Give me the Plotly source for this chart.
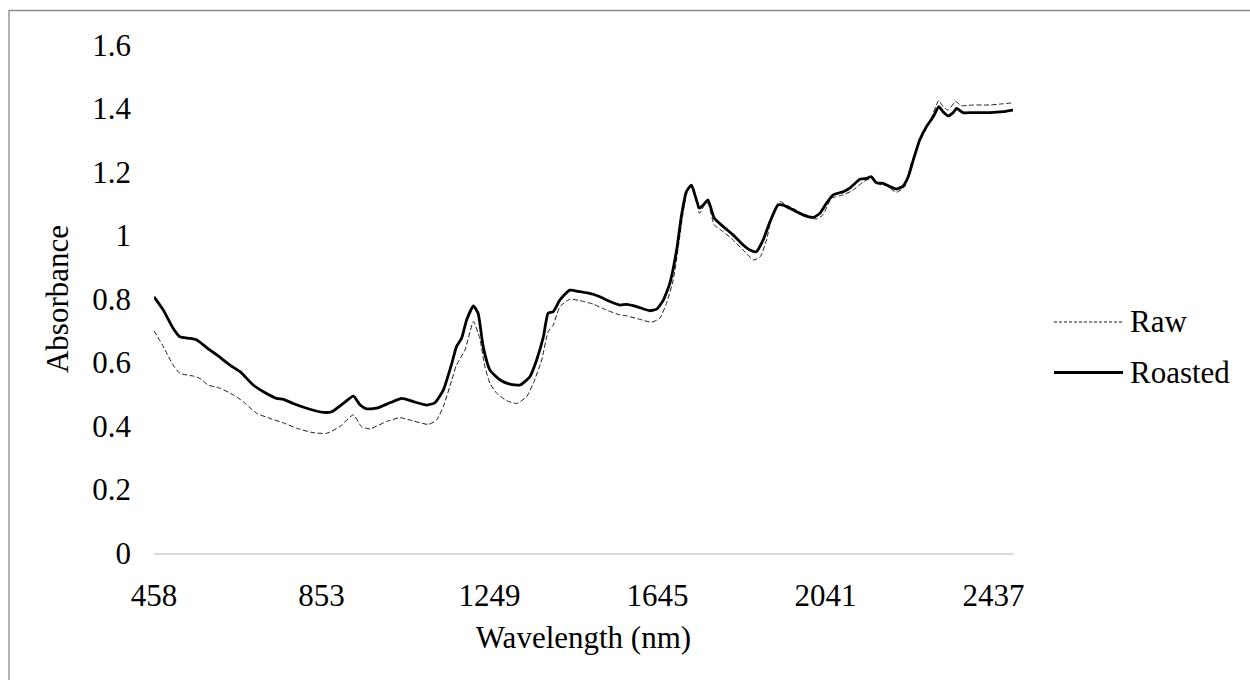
import plotly.graph_objects as go

# NIR absorbance spectra of raw and roasted samples
wl_roasted = [458, 480, 503, 519, 543, 559, 590, 606, 637, 661, 692, 716, 747, 763, 786, 818,
              857, 877, 904, 928, 944, 959, 983, 1014, 1042, 1069, 1101, 1120, 1140, 1160, 1171,
              1183, 1195, 1211, 1222, 1234, 1250, 1274, 1297, 1321, 1344, 1360, 1376, 1387, 1399,
              1415, 1438, 1462, 1493, 1509, 1533, 1556, 1572, 1596, 1627, 1643, 1658, 1674, 1690,
              1701, 1713, 1725, 1732, 1744, 1756, 1764, 1779, 1800, 1823, 1847, 1863, 1878, 1894,
              1910, 1929, 1941, 1965, 1988, 2012, 2028, 2043, 2059, 2083, 2098, 2122, 2138, 2149,
              2161, 2177, 2193, 2208, 2224, 2236, 2248, 2263, 2279, 2295, 2308, 2318, 2330, 2342,
              2350, 2365, 2389, 2428, 2460, 2483]
abs_roasted = [0.807, 0.765, 0.708, 0.681, 0.676, 0.671, 0.639, 0.624, 0.592, 0.571, 0.529, 0.508,
               0.487, 0.484, 0.471, 0.456, 0.443, 0.445, 0.471, 0.494, 0.466, 0.454, 0.456, 0.473,
               0.487, 0.477, 0.466, 0.473, 0.513, 0.597, 0.650, 0.676, 0.734, 0.778, 0.755, 0.650,
               0.576, 0.545, 0.532, 0.529, 0.555, 0.608, 0.681, 0.755, 0.760, 0.797, 0.828, 0.823,
               0.815, 0.807, 0.792, 0.781, 0.783, 0.776, 0.763, 0.768, 0.795, 0.849, 0.954, 1.059,
               1.138, 1.159, 1.133, 1.086, 1.101, 1.112, 1.054, 1.028, 1.002, 0.970, 0.954, 0.949,
               0.986, 1.043, 1.096, 1.096, 1.080, 1.065, 1.057, 1.070, 1.101, 1.128, 1.138, 1.149,
               1.177, 1.180, 1.185, 1.166, 1.164, 1.154, 1.146, 1.156, 1.185, 1.238, 1.301, 1.343,
               1.374, 1.406, 1.390, 1.377, 1.387, 1.400, 1.387, 1.387, 1.387, 1.390, 1.395]

wl_raw = [458, 480, 503, 519, 551, 566, 586, 614, 645, 668, 700, 731, 763, 794, 833, 865, 896,
          928, 947, 967, 1006, 1038, 1069, 1105, 1124, 1140, 1160, 1171, 1191, 1211, 1226, 1238,
          1250, 1266, 1289, 1313, 1336, 1352, 1372, 1387, 1399, 1415, 1438, 1462, 1493, 1525,
          1556, 1572, 1603, 1631, 1650, 1666, 1682, 1693, 1705, 1716, 1725, 1736, 1744, 1756,
          1764, 1779, 1800, 1823, 1847, 1871, 1887, 1902, 1914, 1933, 1949, 1972, 1996, 2020,
          2035, 2055, 2083, 2106, 2130, 2149, 2161, 2185, 2208, 2228, 2243, 2263, 2287, 2308,
          2318, 2330, 2348, 2361, 2389, 2428, 2460, 2483]
abs_raw = [0.700, 0.650, 0.592, 0.566, 0.557, 0.550, 0.529, 0.519, 0.498, 0.477, 0.440, 0.424,
           0.410, 0.393, 0.379, 0.377, 0.398, 0.435, 0.398, 0.391, 0.414, 0.426, 0.416, 0.405,
           0.419, 0.461, 0.545, 0.592, 0.639, 0.729, 0.676, 0.587, 0.534, 0.503, 0.480, 0.471,
           0.492, 0.534, 0.608, 0.697, 0.718, 0.776, 0.799, 0.795, 0.784, 0.765, 0.750, 0.747,
           0.736, 0.727, 0.739, 0.786, 0.860, 0.954, 1.070, 1.143, 1.156, 1.112, 1.070, 1.096,
           1.101, 1.033, 1.012, 0.986, 0.954, 0.923, 0.933, 0.986, 1.059, 1.107, 1.096, 1.080,
           1.061, 1.052, 1.065, 1.117, 1.128, 1.143, 1.169, 1.180, 1.164, 1.156, 1.136, 1.154,
           1.227, 1.296, 1.358, 1.425, 1.406, 1.395, 1.422, 1.409, 1.411, 1.411, 1.415, 1.418]

x_ticks = [458, 853, 1249, 1645, 2041, 2437]
y_ticks = [0, 0.2, 0.4, 0.6, 0.8, 1, 1.2, 1.4, 1.6]

FONT = "Liberation Serif, Times New Roman, serif"
FS = 31

fig = go.Figure()
fig.add_trace(go.Scatter(
    x=wl_raw, y=abs_raw, mode="lines", name="Raw", showlegend=False,
    line=dict(color="#1a1a1a", width=1, dash="5px,2.5px", shape="spline", smoothing=0.5),
))
fig.add_trace(go.Scatter(
    x=wl_roasted, y=abs_roasted, mode="lines", name="Roasted", showlegend=False,
    line=dict(color="black", width=2.8, shape="spline", smoothing=0.5),
))

# plot area: x 154..1013 px, y 45..553 px
L, R, T, B = 154, 1013, 45, 553
W, H = 1250, 680
pw, ph = R - L, B - T


def px(x):
    return (x - L) / pw


def py(y):
    return (B - y) / ph


shapes = [
    # outer chart border
    dict(type="rect", xref="paper", yref="paper", x0=px(9), x1=px(1262), y0=py(692), y1=py(10.5),
         line=dict(color="#8a8a8a", width=1.3), fillcolor="rgba(0,0,0,0)", layer="below"),
    # legend keys
    dict(type="line", xref="paper", yref="paper", x0=px(1054), x1=px(1123), y0=py(322), y1=py(322),
         line=dict(color="#1a1a1a", width=1, dash="3px,2px")),
    dict(type="line", xref="paper", yref="paper", x0=px(1054), x1=px(1123), y0=py(372.5), y1=py(372.5),
         line=dict(color="black", width=2.8)),
]
annotations = [
    dict(text="Raw", xref="paper", yref="paper", x=px(1128), y=py(322), xanchor="left", yanchor="middle",
         showarrow=False, font=dict(family=FONT, size=FS, color="black")),
    dict(text="Roasted", xref="paper", yref="paper", x=px(1128), y=py(372.5), xanchor="left", yanchor="middle",
         showarrow=False, font=dict(family=FONT, size=FS, color="black")),
]

fig.update_layout(
    width=W, height=H,
    margin=dict(l=L, r=W - R, t=T, b=H - B, autoexpand=False),
    paper_bgcolor="white", plot_bgcolor="white",
    font=dict(family=FONT, size=FS, color="black"),
    shapes=shapes, annotations=annotations,
    showlegend=False,
    xaxis=dict(
        range=[458, 2483], tickvals=x_ticks, ticktext=[str(v) for v in x_ticks],
        showgrid=False, zeroline=False, showline=True, linecolor="#d9d9d9", linewidth=1.5,
        ticks="", ticklabelstandoff=14,
        title=dict(text="Wavelength (nm)", standoff=14, font=dict(family=FONT, size=FS)),
        tickfont=dict(family=FONT, size=FS, color="black"), automargin=False,
    ),
    yaxis=dict(
        range=[0, 1.6], tickvals=y_ticks, ticktext=["0", "0.2", "0.4", "0.6", "0.8", "1", "1.2", "1.4", "1.6"],
        showgrid=False, zeroline=False, showline=False,
        ticks="", ticklabelstandoff=22,
        title=dict(text="Absorbance", standoff=14, font=dict(family=FONT, size=FS)),
        tickfont=dict(family=FONT, size=FS, color="black"), automargin=False,
    ),
)

fig.write_html("out.html")
